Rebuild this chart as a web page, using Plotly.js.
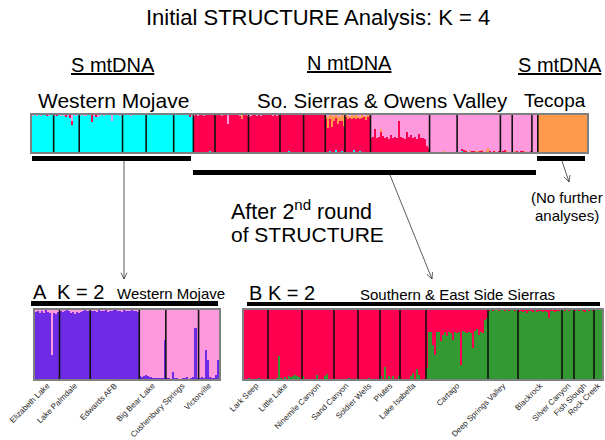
<!DOCTYPE html>
<html>
<head>
<meta charset="utf-8">
<script src="https://cdn.plot.ly/plotly-3.0.1.min.js"></script>
<style>html,body{margin:0;padding:0;background:#fff}#chart{width:605px;height:440px}</style>
</head>
<body>
<div id="chart"></div>
<script>
// ---------- Initial STRUCTURE, K = 4 (top panel) ----------
const topCounts = [11,13,22,12,14,10, 11,17,16,12,11,10,13,30,14,22,6,10,3,25];
const topMain   = ['cyan','cyan','cyan','cyan','cyan','cyan',
                   'red','red','red','red','red','red','red','pink','pink','pink','pink','pink','pink','orange'];
const topCyan = [
  0,0,0,0,0,0,0,0,0,0,0,
  0,0,0,0,0,0,0,0,0,0,0,0,0,
  0,0,0,0,0,0,0,0,0,0,0,0,0,0,0,0,0,0,0,0,0,0,
  0,0,0,0,0,0,0,0,0,0,0,0,
  0,0,0,0,0,0,0,0,0,0,0,0,0,0,
  0,0,0,0,0,0,0,0,0,0,
  0,0,0,0,0,0,0,0,.03,0,0,
  0,0,0,0,0,0,0,0,0,0,0,0,0,0,0,0,0,
  0,0,0,0,0,0,0,0,0,0,0,0,0,0,0,0,
  0,0,0,0,.02,0,0,0,0,0,0,0,
  0,0,0,0,0,0,0,0,0,0,0,
  0,0,.04,0,0,.05,0,0,.03,0,
  0,0,0,0,.05,0,0,.04,0,0,0,0,0,
  0,0,0,0,0,0,0,0,0,0,0,0,0,0,0,0,0,0,0,0,0,0,0,0,0,0,0,0,0,0,
  0,0,0,0,0,0,0,0,0,0,0,0,0,0,
  0,0,.04,0,0,0,0,0,0,0,0,0,0,0,0,0,0,0,0,0,0,0,
  0,0,0,0,0,0,
  0,0,0,0,0,0,0,0,0,0,
  0,0,0,
  0,0,0,0,0,0,0,0,0,0,0,0,0,0,0,0,0,0,0,0,0,0,0,0,0,0
];
const topRed = [
  0,0,0,0,0,0,0,.04,0,0,0,
  0,.04,0,0,0,0,.05,0,.08,.12,0,0,0,
  0,0,0,0,0,0,.18,0,.06,0,0,0,0,0,0,0,0,0,0,0,0,0,
  0,0,0,0,0,0,0,0,0,0,0,0,
  0,0,0,0,0,0,0,0,0,0,0,0,0,0,
  0,0,0,0,0,0,0,0,.06,0,
  0,0,0,0,0,0,0,0,0,0,0,
  0,0,0,0,0,0,0,0,0,0,0,0,0,0,0,0,0,
  0,0,0,0,0,0,0,0,0,0,0,0,0,0,0,0,
  0,0,0,0,0,0,0,0,0,0,0,0,
  0,0,0,0,0,0,0,0,0,0,0,
  0,0,0,0,0,0,0,0,0,0,
  0,0,0,0,0,0,0,0,0,0,0,0,0,
  .38,.40,.62,.38,.40,.55,.42,.38,.40,.36,.45,.38,.40,.37,.85,.40,.38,.36,.55,.40,.45,.38,.40,.36,.50,.38,.37,.35,.15,.12,
  0,0,0,0,0,0,0,0,0,0,0,0,0,0,
  0,0,.03,.05,.02,0,0,.03,.04,0,0,.02,.03,0,0,0,.03,0,.02,0,0,.04,
  0,.02,.06,0,0,0,
  0,0,.03,0,.02,.04,0,0,0,.02,
  0,0,0,
  0,0,0,0,0,0,0,0,0,0,0,0,0,0,0,0,0,0,0,0,0,0,0,0,0
];
const topOrange = [
  0,0,0,0,0,0,0,0,0,0,0,
  0,0,0,0,0,0,0,0,0,0,0,0,0,
  0,0,0,0,0,0,0,0,0,0,0,0,0,0,0,0,0,0,0,0,0,0,
  0,0,0,0,0,0,0,0,0,0,0,0,
  0,0,0,0,0,0,0,0,0,0,0,0,0,0,
  0,0,0,0,0,0,0,0,0,0,
  0,0,0,0,0,0,0,0,0,0,0,
  0,0,0,0,0,0,0,0,0,0,0,0,0,.12,0,0,0,
  0,0,0,0,0,0,0,0,0,0,0,0,0,0,0,0,
  0,0,0,0,0,0,0,0,0,0,0,0,
  0,0,0,0,0,0,0,0,0,0,0,
  .08,.30,.10,.28,.12,.08,.20,.10,.15,.25,
  .05,.08,.03,.10,.05,.12,.04,.06,.08,.03,.10,.05,.02,
  0,0,0,0,0,.06,0,0,0,0,0,0,0,0,0,0,0,0,0,0,0,0,0,0,0,0,0,0,0,0,
  0,0,0,0,0,0,0,.02,0,0,0,0,0,0,
  0,0,0,0,.03,0,.04,0,0,.02,.03,0,.02,0,.04,.12,0,0,0,.03,0,0,
  0,0,0,.03,0,0,
  0,.02,0,0,0,0,.02,0,0,0,
  0,0,0,
  0,0,0,0,0,0,0,0,0,0,0,0,0,0,0,0,0,0,0,0,0,0,0,0,0
];
const topPink = [
  .03,0,.02,0,.03,0,0,0,.03,0,0,
  .03,0,0,.02,0,.03,0,.03,0,.15,0,.02,0,
  .03,0,.02,.02,0,0,0,.03,0,.05,.04,0,.02,0,0,0,.15,0,0,0,.02,0,
  0,0,0,0,.02,0,0,0,0,0,0,0,
  0,0,0,0,0,0,0,0,0,0,0,0,0,0,
  0,0,0,0,0,0,0,0,0,.02,
  .02,0,.03,0,0,.02,0,0,0,0,0,
  0,0,0,.03,0,0,.25,0,0,0,0,0,.03,0,0,0,.02,
  .06,.03,0,0,.02,0,.04,0,0,0,0,0,.03,0,.02,0,
  0,0,0,0,0,0,0,0,0,0,0,0,
  0,0,0,0,0,0,0,0,0,0,0,
  .03,.05,0,.04,.03,0,.03,.05,0,.04,
  0,.03,.05,0,.02,0,.03,.05,0,.02,.04,0,.02,
  0,0,0,0,0,0,0,0,0,0,0,0,0,0,0,0,0,0,0,0,0,0,0,0,0,0,0,0,0,0,
  0,0,0,0,0,0,0,0,0,0,0,0,0,0,
  0,0,0,0,0,0,0,0,0,0,0,0,0,0,0,0,0,0,0,0,0,0,
  0,0,0,0,0,0,
  0,0,0,0,0,0,0,0,0,0,
  0,0,0,
  0,0,0,0,0,0,0,0,0,0,0,0,0,0,0,0,0,0,0,0,0,0,0,0,0
];

// ---------- A: Western Mojave, K = 2 ----------
const aPops   = ['Elizabeth Lake','Lake Palmdale','Edwards AFB','Big Bear Lake','Cushenbury Springs','Victorville'];
const aCounts = [12,15,24,13,16,10];
const aPurple = [
  .97,.98,.96,.98,.95,1,.97,.95,.35,.96,.94,.97,
  .98,.97,.98,1,.98,.95,.97,.94,.97,.95,.97,.98,1,.98,.99,
  .98,.99,.98,.97,1,.99,.98,1,.97,.98,.99,1,1,.98,.99,.97,1,.98,.99,.98,1,.98,.99,.97,
  .05,.03,.04,.06,.05,.03,.01,.02,.01,.02,.01,.02,.57,
  .02,.01,0,.10,.02,.01,0,0,.01,.02,.03,0,.01,.03,.74,.02,
  .02,.03,.01,.42,.27,.03,.02,.01,.06,.28
];

// ---------- B: Southern & East Side Sierras, K = 2 ----------
const bPops   = ['Lark Seep','Little Lake','Ninemile Canyon','Sand Canyon','Soldier Wells','Plutes','Lake Isabella',
                 'Cartago','Deep Springs Valley','Blackrock','Silver Canyon','Fish Slough','Rock Creek'];
const bCounts = [12,17,16,12,11,10,13,31,15,22,6,10,4];
const bGreen  = [
  0,0,.02,0,0,0,0,.01,0,0,0,0,
  0,0,0,0,.02,.34,.02,0,.03,0,.05,.03,.04,.06,.05,.03,0,
  .05,0,0,0,0,0,0,.06,0,0,0,.04,.07,0,0,0,
  0,0,0,0,0,0,0,.02,0,0,0,.02,
  0,0,0,0,0,.02,0,0,0,0,0,
  .05,0,.18,0,.05,0,.04,0,0,.04,
  0,0,0,0,0,.04,.08,0,.15,.06,0,0,0,
  .16,.68,.68,.50,.35,.68,.68,.55,.64,.68,.62,.68,.66,.57,.68,.66,.68,.21,.70,.68,.66,.68,.66,.45,.70,.72,.64,.68,.66,.86,.88,
  .99,1,.98,1,1,.99,1,1,.98,1,.99,1,1,.99,1,
  .97,.98,.97,.98,.96,.99,.98,.97,1,.97,.98,.99,.97,.98,.97,.88,.99,.98,.97,.98,.99,1,
  1,.98,1,.99,1,1,
  .99,1,.98,1,.99,.97,1,.99,1,.98,
  1,1,1,1
];

// ---------- colours ----------
const COL = {cyan:'#00FFFF', red:'#FF0050', orange:'#FF9A4A', pink:'#FF99DD', purple:'#6E2BE6', green:'#339933'};

// ---------- helpers ----------
const W = 605, H = 440;
const px = x => x / W;
const py = y => 1 - y / H;
const idx = n => Array.from({length:n}, (_, i) => i);
function bounds(counts){ const b=[0]; counts.forEach(c=>b.push(b[b.length-1]+c)); return b; }

// top: dominant cluster is the remainder
const topB = bounds(topCounts);
const topVals = {cyan:topCyan.slice(), red:topRed.slice(), orange:topOrange.slice(), pink:topPink.slice()};
const order = ['cyan','red','orange','pink'];
topCounts.forEach((c, p) => {
  const m = topMain[p];
  for (let i = topB[p]; i < topB[p+1]; i++) {
    let s = 0; order.forEach(k => { if (k !== m) s += topVals[k][i]; });
    topVals[m][i] = 1 - s;
  }
});
const nTop = topB[topB.length-1];
const nA = aPurple.length, nB = bGreen.length;
const aB = bounds(aCounts), bB = bounds(bCounts);

const traces = [];
order.forEach(k => traces.push({type:'bar', x:idx(nTop), y:topVals[k], xaxis:'x', yaxis:'y', width:1,
  marker:{color:COL[k], line:{width:0}}, hoverinfo:'skip', showlegend:false}));
traces.push({type:'bar', x:idx(nA), y:aPurple, xaxis:'x2', yaxis:'y2', width:1,
  marker:{color:COL.purple, line:{width:0}}, showlegend:false});
traces.push({type:'bar', x:idx(nA), y:aPurple.map(v=>1-v), xaxis:'x2', yaxis:'y2', width:1,
  marker:{color:COL.pink, line:{width:0}}, showlegend:false});
traces.push({type:'bar', x:idx(nB), y:bGreen, xaxis:'x3', yaxis:'y3', width:1,
  marker:{color:COL.green, line:{width:0}}, showlegend:false});
traces.push({type:'bar', x:idx(nB), y:bGreen.map(v=>1-v), xaxis:'x3', yaxis:'y3', width:1,
  marker:{color:COL.red, line:{width:0}}, showlegend:false});

const frame = {showline:true, mirror:true, linecolor:'#7f7f7f', linewidth:2, showgrid:false, zeroline:false, ticks:''};
const centers = b => b.slice(0,-1).map((v,i)=>(v + b[i+1]) / 2 - 0.5);

const shapes = [];
function dividers(b, xr, yr){
  for (let i = 1; i < b.length-1; i++)
    shapes.push({type:'line', xref:xr, yref:yr, x0:b[i]-0.5, x1:b[i]-0.5, y0:0, y1:1, line:{color:'#111', width:1.6}});
}
dividers(topB,'x','y'); dividers(aB,'x2','y2'); dividers(bB,'x3','y3');
function bar(x0,x1,y0,y1){ shapes.push({type:'rect', xref:'paper', yref:'paper', x0:px(x0), x1:px(x1), y0:py(y1), y1:py(y0), fillcolor:'#000', line:{width:0}}); }
bar(32,191,156,161); bar(193,536,170,175); bar(537,585,156,161);
bar(31,218,301,306); bar(247,600,302,306);

// arrows: thin line with an open V head
function arrow(tx, ty, hx, hy){
  shapes.push({type:'line', xref:'paper', yref:'paper', x0:px(tx), y0:py(ty), x1:px(hx), y1:py(hy), line:{color:'#333', width:0.8}});
  const a = Math.atan2(hy-ty, hx-tx), L = 7, s = 0.45;
  const p1 = [hx - L*Math.cos(a-s), hy - L*Math.sin(a-s)];
  const p2 = [hx - L*Math.cos(a+s), hy - L*Math.sin(a+s)];
  shapes.push({type:'path', xref:'paper', yref:'paper',
    path:`M${px(p1[0])},${py(p1[1])} L${px(hx)},${py(hy)} L${px(p2[0])},${py(p2[1])}`,
    line:{color:'#333', width:0.8}});
}
arrow(124,161,124,279);
arrow(390,175,432,279);
arrow(562,161,569,182);

const F = 'Arial, "Liberation Sans", sans-serif';
const ann = [];
function txt(t, x, y, size, anchor, extra){
  ann.push(Object.assign({text:t, x:px(x), y:py(y), xref:'paper', yref:'paper', showarrow:false,
    xanchor:anchor||'center', yanchor:'middle', font:{family:F, size:size, color:'#000'}}, extra||{}));
}
txt('Initial STRUCTURE Analysis: K = 4', 318, 18, 22);
const ul = {family:F, size:20, color:'#000', lineposition:'under'};
txt('S mtDNA', 113, 65, 20, 'center', {font:ul});
txt('N mtDNA', 349, 63, 20, 'center', {font:ul});
txt('S mtDNA', 560, 65, 20, 'center', {font:ul});
txt('Western Mojave', 113, 101, 21);
txt('So. Sierras & Owens Valley', 382, 101, 20.5);
txt('Tecopa', 555, 101, 19);
txt('After 2<sup>nd</sup> round', 229, 210, 21.5, 'left');
txt('of STRUCTURE', 229, 234, 21, 'left');
txt('(No further', 567, 198, 15);
txt('analyses)', 567, 215, 15);
txt('A', 31, 292, 20, 'left');
txt('K = 2', 55, 292, 20, 'left');
txt('Western Mojave', 115, 293, 15, 'left');
txt('B K = 2', 247, 293, 20, 'left');
txt('Southern & East Side Sierras', 358, 294, 15, 'left');

const tickAxis = {tickmode:'array', tickangle:-45, ticklen:0, ticklabeloverflow:'allow', automargin:false,
                  ticklabelstandoff:-3, tickfont:{family:F, size:8, color:'#222'}};
const layout = {
  width:W, height:H, margin:{l:0,r:0,t:0,b:0}, paper_bgcolor:'#fff', plot_bgcolor:'#fff',
  barmode:'stack', bargap:0, showlegend:false,
  xaxis:  Object.assign({}, frame, {domain:[px(32),px(587)], range:[-0.5,nTop-0.5], showticklabels:false}),
  yaxis:  Object.assign({}, frame, {domain:[py(152),py(115)], range:[0,1], showticklabels:false}),
  xaxis2: Object.assign({}, frame, tickAxis, {domain:[px(35),px(219)], range:[-0.5,nA-0.5], anchor:'y2',
            tickvals:centers(aB), ticktext:aPops}),
  yaxis2: Object.assign({}, frame, {domain:[py(379),py(310)], range:[0,1], anchor:'x2', showticklabels:false}),
  xaxis3: Object.assign({}, frame, tickAxis, {domain:[px(244),px(602)], range:[-0.5,nB-0.5], anchor:'y3',
            tickvals:centers(bB), ticktext:bPops}),
  yaxis3: Object.assign({}, frame, {domain:[py(379),py(310)], range:[0,1], anchor:'x3', showticklabels:false}),
  shapes: shapes, annotations: ann
};
Plotly.newPlot('chart', traces, layout, {staticPlot:true, displayModeBar:false});
</script>
</body>
</html>
